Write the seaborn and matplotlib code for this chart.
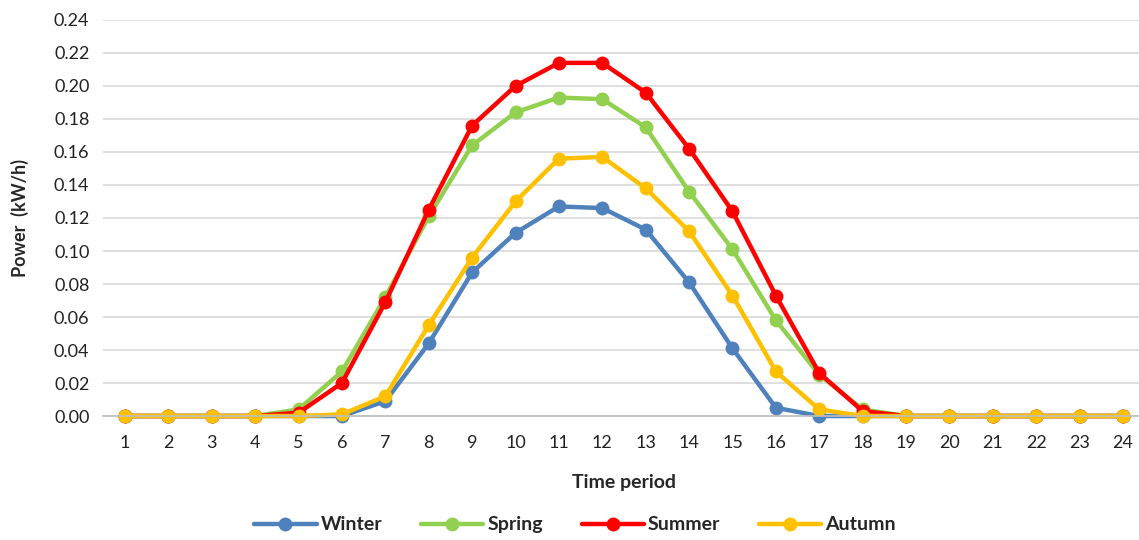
import matplotlib
matplotlib.use("Agg")
import matplotlib.pyplot as plt
import seaborn as sns
import pandas as pd

periods = list(range(1, 25))
winter = [0, 0, 0, 0, 0, 0, 0.009, 0.044, 0.087, 0.111, 0.127, 0.126,
          0.113, 0.081, 0.041, 0.005, 0, 0, 0, 0, 0, 0, 0, 0]
spring = [0, 0, 0, 0, 0.004, 0.027, 0.072, 0.121, 0.164, 0.184, 0.193, 0.192,
          0.175, 0.136, 0.101, 0.058, 0.025, 0.004, 0, 0, 0, 0, 0, 0]
summer = [0, 0, 0, 0, 0.002, 0.020, 0.069, 0.125, 0.176, 0.200, 0.214, 0.214,
          0.196, 0.162, 0.124, 0.073, 0.026, 0.003, 0, 0, 0, 0, 0, 0]
autumn = [0, 0, 0, 0, 0, 0.001, 0.012, 0.055, 0.096, 0.130, 0.156, 0.157,
          0.138, 0.112, 0.073, 0.027, 0.004, 0, 0, 0, 0, 0, 0, 0]
seasons = ["Winter", "Spring", "Summer", "Autumn"]
colors = ["#4F81BD", "#92D050", "#FF0000", "#FFC000"]

# long-form table for seaborn
rows = []
for name, vals in zip(seasons, [winter, spring, summer, autumn]):
    for p, v in zip(periods, vals):
        rows.append({"period": p, "power": v, "season": name})
df = pd.DataFrame(rows)

sns.set_style("white")
plt.rcParams['font.family'] = ['Lato', 'DejaVu Sans']

fig = plt.figure(figsize=(11.39, 5.40), dpi=100)
ax = fig.add_axes([0.0907, 0.2296, 0.9143, 0.7334])

sns.lineplot(data=df, x="period", y="power", hue="season", hue_order=seasons,
             palette=colors, marker="o", markersize=10, markeredgewidth=0,
             linewidth=3.2, ax=ax, clip_on=False)

ax.set_xlim(0.5, 24.5)
ax.set_ylim(0, 0.24)
ax.set_xticks(periods)
ax.set_yticks([i * 0.02 for i in range(13)])
ax.set_yticklabels([f"{i * 0.02:.2f}" for i in range(13)])
ax.tick_params(axis="both", length=0, labelsize=13, colors="#222222")
ax.tick_params(axis="x", pad=14)
ax.tick_params(axis="y", pad=10)

ax.grid(axis="y", color="#D9D9D9", linewidth=1.2)
ax.set_axisbelow(True)
for s in ["top", "right", "left"]:
    ax.spines[s].set_visible(False)
ax.spines["bottom"].set_color("#BFBFBF")
ax.spines["bottom"].set_linewidth(1.2)

ax.set_xlabel("Time period", fontsize=14, fontweight="bold", labelpad=16)
ax.set_ylabel("Power  (kW/h)", fontsize=13, fontweight="bold", labelpad=18)

ax.legend(loc="center", bbox_to_anchor=(0.453, -0.275), ncol=4,
          frameon=False, handlelength=3.2, columnspacing=2.0,
          handletextpad=0.2, prop={"weight": "bold", "size": 14})

fig.savefig("out.png", dpi=100)
